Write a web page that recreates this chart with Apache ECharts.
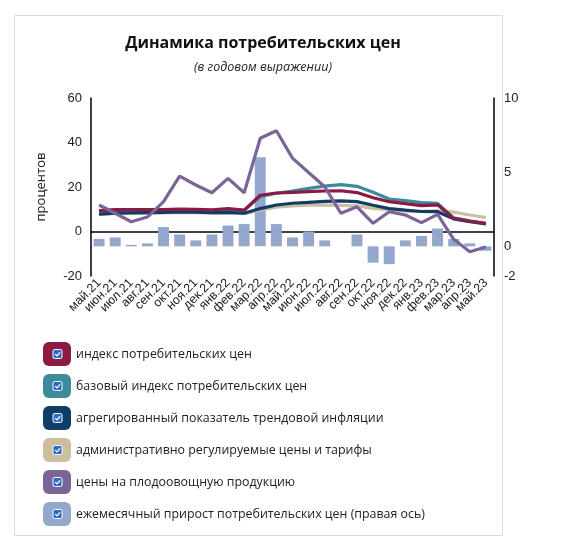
<!DOCTYPE html>
<html><head><meta charset="UTF-8">
<title>Динамика потребительских цен</title>
<script src="https://cdn.jsdelivr.net/npm/echarts@6/dist/echarts.min.js"></script>
<style>
  html, body { margin: 0; padding: 0; background: #fff; }
  #chart { width: 567px; height: 544px; }
</style>
</head>
<body>
<div id="chart"></div>
<script type="text/javascript">
// месяцы
var months = ['май.21','июн.21','июл.21','авг.21','сен.21','окт.21','ноя.21','дек.21',
  'янв.22','фев.22','мар.22','апр.22','май.22','июн.22','июл.22','авг.22','сен.22',
  'окт.22','ноя.22','дек.22','янв.23','фев.23','мар.23','апр.23','май.23'];

// годовые темпы, %
var cpi   = [9.4, 9.8, 9.8, 9.8, 9.8, 10.1, 9.9, 9.7, 10.3, 9.6, 16.3, 17.3, 17.6, 17.9, 18.2, 18.3, 17.5, 15.2, 13.4, 12.5, 11.6, 12.0, 5.9, 4.6, 3.6];
var core  = [9.1, 9.5, 9.5, 9.5, 9.6, 9.8, 9.6, 9.4, 9.9, 9.4, 15.8, 17.2, 18.2, 19.4, 20.4, 21.1, 20.3, 17.6, 14.6, 13.9, 13.0, 12.6, 6.1, 4.8, 3.7];
var trend = [7.8, 8.3, 8.4, 8.5, 8.6, 8.8, 8.7, 8.5, 8.6, 8.2, 10.3, 11.9, 12.7, 13.1, 13.5, 13.8, 13.4, 11.8, 10.3, 9.6, 9.0, 8.9, 5.7, 4.4, 3.4];
var admin = [7.6, 8.1, 8.2, 8.3, 8.4, 8.6, 8.5, 8.3, 8.4, 8.0, 9.6, 10.9, 11.5, 11.8, 11.9, 11.7, 11.5, 10.4, 9.8, 9.2, 9.1, 9.3, 8.7, 7.4, 6.3];
var fruit = [11.9, 8.2, 4.4, 6.5, 13.4, 24.9, 20.9, 17.4, 23.9, 17.4, 41.9, 45.3, 33.0, 26.5, 20.1, 8.2, 11.1, 3.7, 8.9, 7.4, 4.0, 7.7, -3.5, -9.1, -7.0];
// ежемесячный прирост, % (правая ось)
var monthly = [0.5, 0.6, 0.1, 0.2, 1.3, 0.8, 0.4, 0.8, 1.4, 1.5, 6.0, 1.5, 0.6, 1.0, 0.4, 0.0, 0.8, -1.1, -1.2, 0.4, 0.7, 1.2, 0.5, 0.2, -0.3];

var rightTicks = [-2, 0, 5, 10];

var names = ['индекс потребительских цен',
  'базовый индекс потребительских цен',
  'агрегированный показатель трендовой инфляции',
  'административно регулируемые цены и тарифы',
  'цены на плодоовощную продукцию',
  'ежемесячный прирост потребительских цен (правая ось)'];
var colors = ['#8c1a45', '#3c8b9c', '#0f3d66', '#ccbf9f', '#7a6498', '#93a8cc'];

var legendLeft = 43, legendTop = 342, rowH = 24, rowGap = 8;

// галочки в легенде
var checks = [];
names.forEach(function (n, i) {
  var cy = legendTop + rowH / 2 + i * (rowH + rowGap);
  checks.push({ type: 'rect', z: 100, zlevel: 1,
    shape: { x: legendLeft + 10, y: cy - 4.5, width: 9, height: 9, r: 1.5 },
    style: { fill: '#2f6bc8', stroke: '#fff', lineWidth: 1 } });
  checks.push({ type: 'polyline', z: 101, zlevel: 1,
    shape: { points: [[legendLeft + 12.2, cy + 0.1], [legendLeft + 14, cy + 1.9], [legendLeft + 17, cy - 1.7]] },
    style: { stroke: '#fff', lineWidth: 1.3, fill: null } });
});

function line(i, data, z) {
  return {
    name: names[i], type: 'line', data: data, yAxisIndex: 0,
    showSymbol: false, symbol: 'none', z: z,
    itemStyle: { color: colors[i] },
    lineStyle: { color: colors[i], width: 3.2 }
  };
}

var option = {
  animation: false,
  textStyle: { fontFamily: 'Liberation Sans, Arial, sans-serif' },
  title: [
    { text: 'Динамика потребительских цен', left: 258, top: 30, textAlign: 'center',
      textStyle: { fontFamily: 'Open Sans', fontWeight: 'bold', fontSize: 16, color: '#111' } },
    { text: '(в годовом выражении)', left: 258, top: 56, textAlign: 'center',
      textStyle: { fontFamily: 'Open Sans', fontStyle: 'italic', fontWeight: 'normal', fontSize: 12.5, color: '#222' } }
  ],
  graphic: [
    { type: 'rect', shape: { x: 14.5, y: 15.5, width: 488, height: 520 },
      style: { fill: null, stroke: '#dcdcdc', lineWidth: 1 }, z: -10 }
  ].concat(checks),
  legend: {
    orient: 'vertical', left: legendLeft, top: legendTop, padding: 0,
    itemWidth: 28, itemHeight: rowH, itemGap: rowGap,
    icon: 'roundRect', selectedMode: false,
    textStyle: { fontFamily: 'Open Sans', fontSize: 12.4, color: '#222' },
    data: names
  },
  grid: { left: 91, right: 73, top: 98, bottom: 268 },
  xAxis: {
    type: 'category', data: months, boundaryGap: true,
    axisLine: { lineStyle: { color: '#000', width: 1.5 } },
    axisTick: { show: false },
    axisLabel: { interval: 0, rotate: 45, fontSize: 12.5, color: '#222', margin: 5 }
  },
  yAxis: [
    { type: 'value', min: -20, max: 60, interval: 20,
      name: 'процентов', nameLocation: 'middle', nameGap: 43,
      nameTextStyle: { fontSize: 13, color: '#222', fontFamily: 'Open Sans' },
      axisLine: { show: true, lineStyle: { color: '#000', width: 1.5 } },
      axisTick: { show: false }, splitLine: { show: false },
      axisLabel: { fontSize: 13, color: '#222', margin: 9 } },
    { type: 'value', min: -2, max: 10, position: 'right',
      axisLine: { show: true, lineStyle: { color: '#000', width: 1.5 } },
      axisTick: { show: false }, splitLine: { show: false },
      axisLabel: { fontSize: 13, color: '#222', margin: 10, customValues: rightTicks } }
  ],
  series: [
    { name: names[5], type: 'bar', data: monthly, yAxisIndex: 1, barWidth: '68%', z: 1,
      itemStyle: { color: colors[5] } },
    line(3, admin, 2),
    line(1, core, 3),
    line(2, trend, 4),
    line(0, cpi, 5),
    line(4, fruit, 6)
  ]
};

var myChart = echarts.init(document.getElementById('chart'));
myChart.setOption(option);
</script>
</body></html>
